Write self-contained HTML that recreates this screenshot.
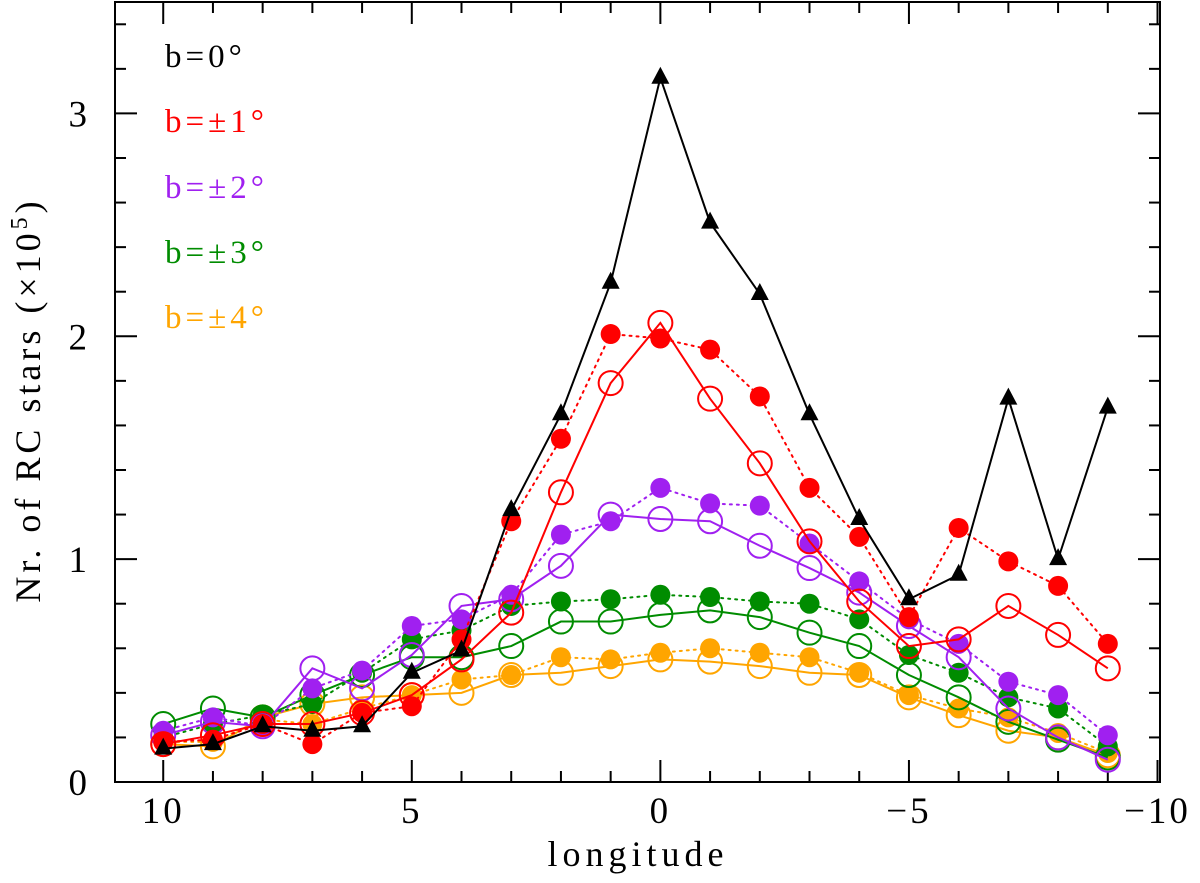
<!DOCTYPE html>
<html><head><meta charset="utf-8"><style>
body{margin:0;background:#fff}
svg{display:block;font-family:"Liberation Serif",serif}
</style></head><body>
<svg id="chart" width="1200" height="883" viewBox="0 0 1200 883" xmlns="http://www.w3.org/2000/svg">
<g id="axes"></g>
<g id="series"></g>
<g font-size="33" letter-spacing="4">
<text x="165" y="67" fill="#000">b=0°</text>
<text x="165" y="132" fill="#ff0000">b=±1°</text>
<text x="165" y="198" fill="#a020f0">b=±2°</text>
<text x="165" y="263" fill="#008c00">b=±3°</text>
<text x="165" y="328" fill="#ffa500">b=±4°</text>
</g>
<text x="638" y="866" text-anchor="middle" font-size="36" letter-spacing="5">longitude</text>
<text transform="translate(40,400) rotate(-90)" text-anchor="middle" font-size="36" letter-spacing="4">Nr. of RC stars (×10<tspan font-size="24" dy="-13">5</tspan><tspan dy="13">)</tspan></text>
</svg>
<script>
const longitudes = [10,9,8,7,6,5,4,3,2,1,0,-1,-2,-3,-4,-5,-6,-7,-8,-9];
const b0 = [0.15,0.17,0.25,0.23,0.25,0.49,0.59,1.22,1.65,2.24,3.16,2.51,2.19,1.65,1.18,0.82,0.93,1.72,1.00,1.68];
const b1Filled = [0.18,0.19,0.26,0.17,0.31,0.34,0.64,1.17,1.54,2.01,1.99,1.94,1.73,1.32,1.10,0.74,1.14,0.99,0.88,0.62];
const b1Open = [0.17,0.21,0.26,0.26,0.31,0.39,0.55,0.76,1.30,1.79,2.06,1.72,1.43,1.08,0.81,0.61,0.64,0.79,0.66,0.51];
const b2Filled = [0.23,0.29,0.25,0.42,0.50,0.70,0.73,0.84,1.11,1.17,1.32,1.25,1.24,1.07,0.90,0.73,0.62,0.45,0.39,0.21];
const b2Open = [0.21,0.27,0.25,0.51,0.42,0.57,0.79,0.82,0.97,1.20,1.18,1.17,1.06,0.96,0.85,0.70,0.56,0.33,0.20,0.10];
const b3Filled = [0.20,0.26,0.30,0.35,0.49,0.64,0.68,0.79,0.81,0.82,0.84,0.83,0.81,0.80,0.73,0.57,0.49,0.38,0.33,0.16];
const b3Open = [0.26,0.33,0.29,0.39,0.48,0.56,0.56,0.61,0.72,0.72,0.75,0.77,0.74,0.67,0.61,0.48,0.38,0.27,0.19,0.11];
const b4Filled = [0.18,0.18,0.28,0.26,0.33,0.39,0.46,0.48,0.56,0.55,0.58,0.60,0.58,0.56,0.49,0.39,0.33,0.29,0.22,0.13];
const b4Open = [0.17,0.16,0.29,0.35,0.38,0.39,0.40,0.48,0.49,0.52,0.55,0.54,0.52,0.49,0.48,0.38,0.30,0.23,0.20,0.12];
const yTicks = [0,1,2,3];
const xTicks = [10,5,0,-5,-10];

const NS="http://www.w3.org/2000/svg";
const L=115,R=1160,T=2,B=782;
const xMin=10.97,xMax=-10.05,yMin=0,yMax=3.5;
function sx(v){return L+(v-xMin)/(xMax-xMin)*(R-L);}
function sy(v){return B-(v-yMin)/(yMax-yMin)*(B-T);}
function mk(tag,attrs,parent){const e=document.createElementNS(NS,tag);for(const k in attrs)e.setAttribute(k,attrs[k]);parent.appendChild(e);return e;}
const ax=document.getElementById('axes');
const fr=mk('rect',{x:L,y:T,width:R-L,height:B-T,fill:'none',stroke:'#000','stroke-width':2},ax);


for(let i=0;i<=17;i++){const v=i*0.2;const y=sy(v);if(y<T)continue;const major=Math.abs(v-Math.round(v))<1e-6;const len=major?22:11;
 const t1=mk('line',{x1:L,x2:L+len,y1:y,y2:y,stroke:'#000','stroke-width':2},ax);
 
 
 const t2=mk('line',{x1:R,x2:R-len,y1:y,y2:y,stroke:'#000','stroke-width':2},ax);
 
 }
yTicks.forEach(v=>{const t=mk('text',{x:L-28,y:sy(v)+13,'text-anchor':'end','font-size':37},ax);t.textContent=v;
 
 });
for(let v=10;v>=-10;v--){const x=sx(v);const major=v%5===0;const len=major?22:11;
 const t1=mk('line',{x1:x,x2:x,y1:B,y2:B-len,stroke:'#000','stroke-width':2},ax);
 
 
 const t2=mk('line',{x1:x,x2:x,y1:T,y2:T+len,stroke:'#000','stroke-width':2},ax);
 
 }
xTicks.forEach(v=>{const t=mk('text',{x:sx(v),y:B+41,'text-anchor':'middle','font-size':37,'letter-spacing':3},ax);t.textContent=v<0?'−'+(-v):v;
 
 });

const sg=document.getElementById('series');
function line(vals,color,dotted,name){const pts=vals.map((v,i)=>sx(longitudes[i])+','+sy(v)).join(' ');
 const a={points:pts,fill:'none',stroke:color,'stroke-width':2};if(dotted){a['stroke-dasharray']='2 5';a['stroke-linecap']='round';}
 const p=mk('polyline',a,sg);
 
 }
function filled(vals,color,name){line(vals,color,true,name);vals.forEach((v,i)=>{const c=mk('circle',{cx:sx(longitudes[i]),cy:sy(v),r:10,fill:color},sg);
 
 });}
function open(vals,color,name){line(vals,color,false,name);vals.forEach((v,i)=>{const c=mk('circle',{cx:sx(longitudes[i]),cy:sy(v),r:12,fill:'none',stroke:color,'stroke-width':2},sg);
 
 });}
const O='#ffa500',G='#008c00',P='#a020f0',Rd='#ff0000';
open(b4Open,O,'b4-open');filled(b4Filled,O,'b4-filled');
open(b3Open,G,'b3-open');filled(b3Filled,G,'b3-filled');
open(b2Open,P,'b2-open');filled(b2Filled,P,'b2-filled');
open(b1Open,Rd,'b1-open');filled(b1Filled,Rd,'b1-filled');
line(b0,'#000',false,'b0');
b0.forEach((v,i)=>{const x=sx(longitudes[i]),y=sy(v);
 const t=mk('polygon',{points:`${x},${y-11} ${x-9},${y+6} ${x+9},${y+6}`,fill:'#000'},sg);
 
 });
</script>
</body></html>
